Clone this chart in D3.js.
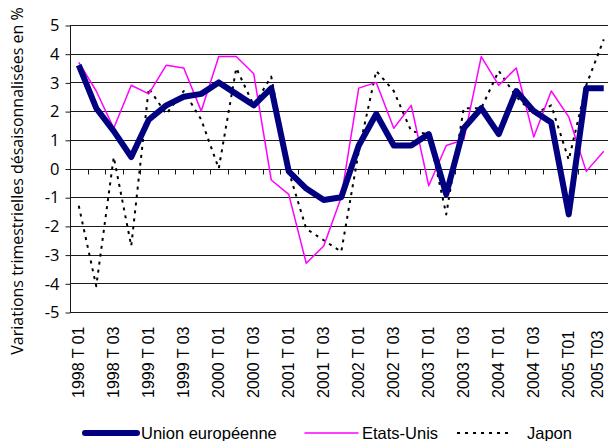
<!DOCTYPE html>
<html>
<head>
<meta charset="utf-8">
<script src="https://cdn.jsdelivr.net/npm/d3@7"></script>
<style>
  html, body { margin: 0; padding: 0; background: #fff; }
  svg { display: block; }
  text { font-family: "Liberation Sans", Arial, sans-serif; fill: #000; }
</style>
</head>
<body>
<svg id="chart" width="608" height="441"></svg>
<script>
// Quarterly periods, 1998 Q1 to 2005 Q3
const quarters = [
  "1998 T 01","1998 T 02","1998 T 03","1998 T 04",
  "1999 T 01","1999 T 02","1999 T 03","1999 T 04",
  "2000 T 01","2000 T 02","2000 T 03","2000 T 04",
  "2001 T 01","2001 T 02","2001 T 03","2001 T 04",
  "2002 T 01","2002 T 02","2002 T 03","2002 T 04",
  "2003 T 01","2003 T 02","2003 T 03","2003 T 04",
  "2004 T 01","2004 T 02","2004 T 03","2004 T 04",
  "2005 T01","2005 T02","2005 T03"
];

// Seasonally adjusted quarterly changes, in %
const unionEuropeenne = [3.6, 2.1, 1.3, 0.4, 1.7, 2.2, 2.5, 2.6, 3.0, 2.6, 2.2, 2.8,
  -0.1, -0.7, -1.1, -1.0, 0.8, 1.9, 0.8, 0.8, 1.2, -0.9, 1.4, 2.1,
  1.2, 2.7, 2.0, 1.6, -1.6, 2.8, 2.8];
const etatsUnis = [3.7, 2.7, 1.4, 2.9, 2.6, 3.6, 3.5, 2.0, 3.9, 3.9, 3.3, -0.4,
  -0.9, -3.3, -2.7, -1.0, 2.8, 3.0, 1.4, 2.2, -0.6, 0.8, 1.0, 3.9,
  2.9, 3.5, 1.1, 2.7, 1.8, -0.1, 0.6];
const japon = [-1.3, -4.1, 0.4, -2.7, 2.8, 1.9, 2.7, 1.7, 0.0, 3.5, 2.2, 3.2,
  -0.1, -2.1, -2.5, -2.9, 0.6, 3.4, 2.7, 1.3, 1.2, -1.6, 2.1, 2.1,
  3.4, 2.5, 1.9, 2.2, 0.3, 2.9, 4.5];

const yTicks = [5, 4, 3, 2, 1, 0, -1, -2, -3, -4, -5];
// Only every other quarter is labelled on the axis
const labelledQuarters = quarters.filter((q, i) => i % 2 === 0);

const series = [
  { name: "Union européenne", values: unionEuropeenne, color: "#000080", width: 6, dash: null },
  { name: "Etats-Unis", values: etatsUnis, color: "#ff00ff", width: 1.5, dash: null },
  { name: "Japon", values: japon, color: "#000000", width: 2, dash: "3,5" }
];

const svg = d3.select("#chart");
const plotLeft = 70, plotTop = 25, plotBottom = 312, step = 17.5;

const x = d3.scaleBand().domain(quarters).range([plotLeft, plotLeft + step * quarters.length]);
const y = d3.scaleLinear().domain([-5, 5]).range([plotBottom, plotTop]);
const cx = q => x(q) + x.bandwidth() / 2;

// Horizontal gridlines
svg.append("g")
  .selectAll("line")
  .data(yTicks)
  .join("line")
  .attr("x1", plotLeft).attr("x2", 608)
  .attr("y1", d => Math.round(y(d)) + 0.5).attr("y2", d => Math.round(y(d)) + 0.5)
  .attr("stroke", "#1a1a1a").attr("stroke-width", 1);

// Vertical axis with its tick labels
const yAxis = svg.append("g")
  .attr("transform", `translate(${plotLeft + 0.5},0.5)`)
  .call(d3.axisLeft(y).tickValues(yTicks).tickSize(5).tickPadding(6)
    .tickFormat(d => d < 0 ? "-" + Math.abs(d) : String(d)));
yAxis.select(".domain").attr("stroke", "#1a1a1a").attr("d", `M0,${y(5)}V${y(-5)}`);
yAxis.selectAll(".tick line").attr("stroke", "#1a1a1a");
yAxis.selectAll("text").style("font-size", "16.5px").style("font-family", "'Open Sans', sans-serif");

// Category ticks hanging under the zero line
const bounds = d3.range(quarters.length + 1).map(i => plotLeft + i * step);
svg.append("g")
  .selectAll("line")
  .data(bounds)
  .join("line")
  .attr("x1", d => Math.round(d) + 0.5).attr("x2", d => Math.round(d) + 0.5)
  .attr("y1", Math.round(y(0)) + 0.5).attr("y2", Math.round(y(0)) + 5.5)
  .attr("stroke", "#1a1a1a");

// Rotated quarter labels (the last one is nudged to stay inside the frame)
svg.append("g")
  .selectAll("text")
  .data(labelledQuarters)
  .join("text")
  .attr("transform", d => `translate(${Math.min(cx(d) + 5.5, 603)},398) rotate(-90)`)
  .attr("text-anchor", "start")
  .style("font-size", "16px")
  .text(d => d);

// Axis title
svg.append("text")
  .attr("transform", "translate(23,181) rotate(-90)")
  .attr("text-anchor", "middle")
  .style("font-size", "16px")
  .style("font-family", "'Open Sans', sans-serif")
  .text("Variations trimestrielles désaisonnalisées en %");

// Series lines
const line = d3.line().x((v, i) => cx(quarters[i])).y(v => y(v));
svg.append("g")
  .selectAll("path")
  .data(series.slice().reverse())
  .join("path")
  .attr("fill", "none")
  .attr("stroke", d => d.color)
  .attr("stroke-width", d => d.width)
  .attr("stroke-dasharray", d => d.dash)
  .attr("stroke-linejoin", "round")
  .attr("d", d => line(d.values));

// Legend
const legendItems = [
  { s: series[0], x1: 85, x2: 137, tx: 141 },
  { s: series[1], x1: 305, x2: 358, tx: 362 },
  { s: series[2], x1: 457, x2: 512, tx: 527 }
];
const lg = svg.append("g");
legendItems.forEach(it => {
  lg.append("line")
    .attr("x1", it.x1).attr("x2", it.x2).attr("y1", 433).attr("y2", 433)
    .attr("stroke", it.s.color)
    .attr("stroke-width", it.s.width)
    .attr("stroke-dasharray", it.s.dash)
    .attr("stroke-linecap", it.s.dash ? "butt" : "round");
  lg.append("text")
    .attr("x", it.tx).attr("y", 439)
    .style("font-size", "16.5px")
    .text(it.s.name);
});
</script>
</body>
</html>
